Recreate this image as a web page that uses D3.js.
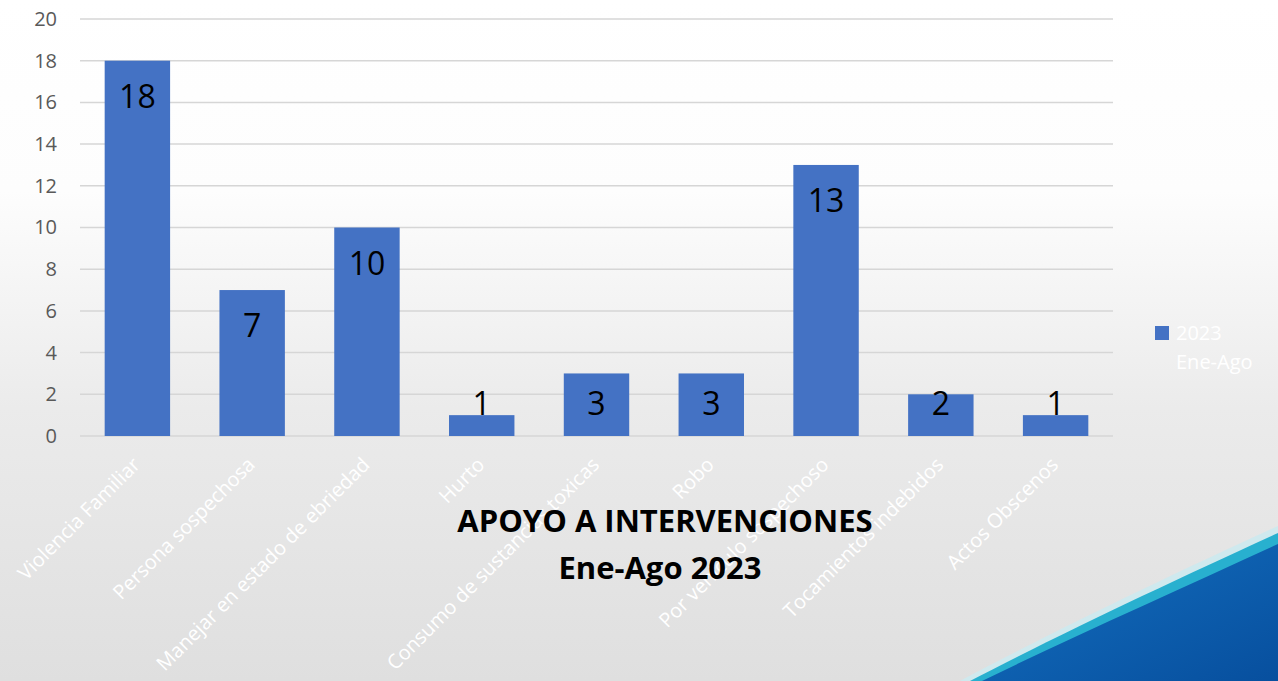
<!DOCTYPE html>
<html>
<head>
<meta charset="utf-8">
<script src="https://cdn.jsdelivr.net/npm/d3@7"></script>
<style>
  body { margin: 0; overflow: hidden; }
  svg { display: block; font-family: "Open Sans", sans-serif; }
</style>
</head>
<body>
<svg id="chart" width="1278" height="681"></svg>
<script>
var categories = ["Violencia Familiar", "Persona sospechosa", "Manejar en estado de ebriedad",
    "Hurto", "Consumo de sustancias toxicas", "Robo", "Por vehiculo sospechoso",
    "Tocamientos indebidos", "Actos Obscenos"];
var values = [18, 7, 10, 1, 3, 3, 13, 2, 1];
var yTicks = [0, 2, 4, 6, 8, 10, 12, 14, 16, 18, 20];
var seriesName = ["2023", "Ene-Ago"];
var titleLines = ["APOYO A INTERVENCIONES", "Ene-Ago 2023"];

var width = 1278, height = 681;
var margin = {left: 80, right: 165, top: 19, bottom: 245};

var svg = d3.select("#chart");

// Background: white fading into grey, blue swoosh bottom right
var defs = svg.append("defs");
var bg = defs.append("linearGradient")
    .attr("id", "bg").attr("x1", 0).attr("y1", 0).attr("x2", 0).attr("y2", 1);
bg.append("stop").attr("offset", "0").attr("stop-color", "#ffffff");
bg.append("stop").attr("offset", "0.28").attr("stop-color", "#fdfdfd");
bg.append("stop").attr("offset", "0.6").attr("stop-color", "#ebebeb");
bg.append("stop").attr("offset", "1").attr("stop-color", "#dfdfdf");

var sw = defs.append("linearGradient")
    .attr("id", "swoosh").attr("x1", 0).attr("y1", 0).attr("x2", 1).attr("y2", 1);
sw.append("stop").attr("offset", "0").attr("stop-color", "#1470c0");
sw.append("stop").attr("offset", "1").attr("stop-color", "#074f9e");

svg.append("rect")
    .attr("width", width).attr("height", height)
    .style("fill", "url(#bg)");

svg.append("path")
    .attr("d", "M960,681 C1050,633 1170,575 1278,526 L1278,681 Z")
    .style("fill", "#cfe9ee");
svg.append("path")
    .attr("d", "M970,681 C1060,634 1175,580 1278,533 L1278,681 Z")
    .style("fill", "#28b0cf");
svg.append("path")
    .attr("d", "M982,681 C1072,637 1183,588 1278,544 L1278,681 Z")
    .style("fill", "url(#swoosh)");

var x = d3.scaleBand()
    .domain(categories)
    .range([margin.left, width - margin.right])
    .paddingInner(0.43)
    .paddingOuter(0.215);

var y = d3.scaleLinear()
    .domain([0, 20])
    .range([height - margin.bottom, margin.top]);

// Gridlines
svg.append("g")
    .selectAll("line")
    .data(yTicks)
    .join("line")
    .attr("x1", margin.left)
    .attr("x2", width - margin.right)
    .attr("y1", d => y(d))
    .attr("y2", d => y(d))
    .style("stroke", "#d6d6d6")
    .style("stroke-width", 1.5);

// Y axis labels
var yAxis = svg.append("g")
    .attr("transform", "translate(" + (margin.left - 23) + ",0)")
    .call(d3.axisLeft(y).tickValues(yTicks).tickSize(0).tickPadding(0));
yAxis.select(".domain").remove();
yAxis.selectAll("text")
    .style("font-family", "Open Sans, sans-serif")
    .style("font-size", "20px")
    .style("fill", "#595959");

// Bars
svg.append("g")
    .selectAll("rect")
    .data(values)
    .join("rect")
    .attr("x", (d, i) => x(categories[i]))
    .attr("y", d => y(d))
    .attr("width", x.bandwidth())
    .attr("height", d => y(0) - y(d))
    .style("fill", "#4472c4");

// Value labels (inside end, clamped above the baseline)
svg.append("g")
    .selectAll("text")
    .data(values)
    .join("text")
    .attr("x", (d, i) => x(categories[i]) + x.bandwidth() / 2)
    .attr("y", d => Math.min(y(d) + 47, y(0) - 21))
    .attr("text-anchor", "middle")
    .style("font-size", "32px")
    .style("fill", "#000000")
    .text(d => d);

// Category labels, rotated
svg.append("g")
    .selectAll("text")
    .data(categories)
    .join("text")
    .attr("transform", d => "translate(" + (x(d) + x.bandwidth() / 2 + 4) + "," + (y(0) + 30) + ") rotate(-45)")
    .attr("text-anchor", "end")
    .style("font-size", "20px")
    .style("fill", "#ffffff")
    .text(d => d);

// Legend
var legend = svg.append("g")
    .attr("transform", "translate(1155,326)");
legend.append("rect")
    .attr("width", 14).attr("height", 14)
    .style("fill", "#4472c4");
legend.selectAll("text")
    .data(seriesName)
    .join("text")
    .attr("x", 21)
    .attr("y", (d, i) => 14 + i * 29)
    .style("font-size", "20px")
    .style("fill", "#ffffff")
    .text(d => d);

// Title
svg.append("g")
    .selectAll("text")
    .data(titleLines)
    .join("text")
    .attr("x", (d, i) => i === 0 ? 665 : 660)
    .attr("y", (d, i) => 532 + i * 47)
    .attr("text-anchor", "middle")
    .style("font-size", "31px")
    .style("font-weight", "bold")
    .style("fill", "#000000")
    .text(d => d);
</script>
</body>
</html>
